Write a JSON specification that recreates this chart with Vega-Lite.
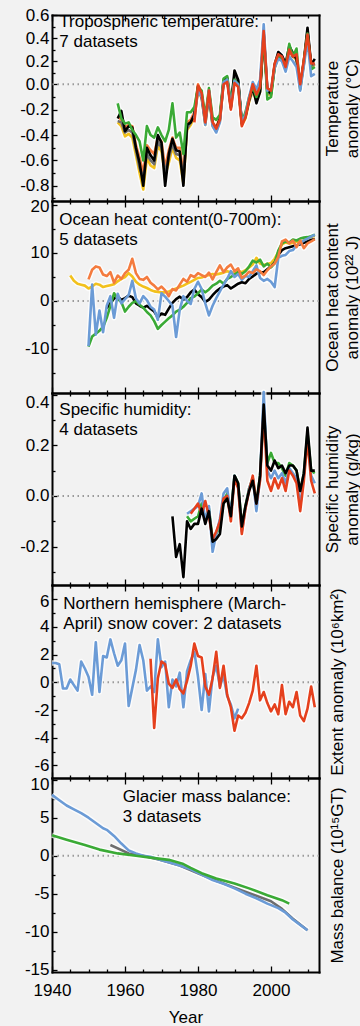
{
"$schema": "https://vega.github.io/schema/vega-lite/v6.json",
"background": "#f2f2f2",
"padding": {"left": 19, "top": 6, "right": 0, "bottom": 0},
"spacing": 0,
"bounds": "flush",
"config": {
 "view": {"stroke": null},
 "axis": {"labelFont": "Liberation Sans", "labelFontSize": 17, "labelColor": "#000", "titleFont": "Liberation Sans", "titleFontSize": 17, "titleFontWeight": "normal", "titleColor": "#000", "domainColor": "#000", "domainWidth": 2, "domainCap": "square", "tickColor": "#000", "tickWidth": 1.3, "grid": false, "labelOverlap": false, "labelBound": false, "labelFlush": false, "zindex": 1},
 "text": {"font": "Liberation Sans"}
},
"datasets": {
 "t1": [
  {"year":1958,"yl":-0.30,"or":-0.25,"gy":-0.29,"bk":-0.27,"gn":-0.15},
  {"year":1959,"yl":-0.33,"or":-0.28,"gy":-0.30,"bk":-0.21,"gn":-0.27},
  {"year":1960,"yl":-0.41,"or":-0.34,"gy":-0.38,"bk":-0.37,"gn":-0.31},
  {"year":1961,"yl":-0.39,"or":-0.32,"gy":-0.36,"bk":-0.33,"gn":-0.30},
  {"year":1962,"yl":-0.42,"or":-0.33,"gy":-0.38,"bk":-0.34,"gn":-0.36},
  {"year":1963,"yl":-0.56,"or":-0.48,"gy":-0.52,"bk":-0.50,"gn":-0.40},
  {"year":1964,"yl":-0.70,"or":-0.58,"gy":-0.66,"bk":-0.62,"gn":-0.45},
  {"year":1965,"yl":-0.83,"or":-0.70,"gy":-0.74,"bk":-0.80,"gn":-0.60},
  {"year":1966,"yl":-0.58,"or":-0.48,"gy":-0.55,"bk":-0.50,"gn":-0.33},
  {"year":1967,"yl":-0.64,"or":-0.52,"gy":-0.60,"bk":-0.56,"gn":-0.40},
  {"year":1968,"yl":-0.66,"or":-0.55,"gy":-0.63,"bk":-0.60,"gn":-0.42},
  {"year":1969,"yl":-0.48,"or":-0.42,"gy":-0.45,"bk":-0.40,"gn":-0.34},
  {"year":1970,"yl":-0.53,"or":-0.45,"gy":-0.50,"bk":-0.46,"gn":-0.40},
  {"year":1971,"yl":-0.72,"or":-0.66,"gy":-0.70,"bk":-0.80,"gn":-0.45},
  {"year":1972,"yl":-0.62,"or":-0.52,"gy":-0.58,"bk":-0.55,"gn":-0.36},
  {"year":1973,"yl":-0.50,"or":-0.42,"gy":-0.47,"bk":-0.43,"gn":-0.15},
  {"year":1974,"yl":-0.58,"or":-0.50,"gy":-0.55,"bk":-0.52,"gn":-0.42},
  {"year":1975,"yl":-0.60,"or":-0.50,"gy":-0.56,"bk":-0.53,"gn":-0.38},
  {"year":1976,"yl":-0.78,"or":-0.70,"gy":-0.74,"bk":-0.80,"gn":-0.55},
  {"year":1977,"yl":-0.36,"or":-0.30,"gy":-0.35,"bk":-0.32,"gn":-0.22},
  {"year":1978,"yl":-0.32,"or":-0.28,"gy":-0.30,"bk":-0.30,"gn":-0.22},
  {"year":1979,"yl":-0.26,"or":-0.22,"gy":-0.24,"bk":-0.24,"gn":-0.18,"bl":-0.27,"rd":-0.30},
  {"year":1980,"yl":-0.05,"or":0.00,"gy":-0.04,"bk":-0.02,"gn":-0.02,"bl":-0.05,"rd":-0.01},
  {"year":1981,"yl":-0.11,"or":-0.07,"gy":-0.10,"bk":-0.09,"gn":-0.05,"bl":-0.10,"rd":-0.07},
  {"year":1982,"yl":-0.32,"or":-0.28,"gy":-0.31,"bk":-0.29,"gn":-0.26,"bl":-0.32,"rd":-0.30},
  {"year":1983,"yl":-0.09,"or":-0.05,"gy":-0.08,"bk":-0.06,"gn":-0.03,"bl":-0.05,"rd":-0.05},
  {"year":1984,"yl":-0.33,"or":-0.30,"gy":-0.32,"bk":-0.31,"gn":-0.26,"bl":-0.33,"rd":-0.30},
  {"year":1985,"yl":-0.37,"or":-0.34,"gy":-0.36,"bk":-0.35,"gn":-0.28,"bl":-0.38,"rd":-0.35},
  {"year":1986,"yl":-0.29,"or":-0.26,"gy":-0.28,"bk":-0.27,"gn":-0.24,"bl":-0.30,"rd":-0.28},
  {"year":1987,"yl":0.01,"or":0.04,"gy":0.02,"bk":0.03,"gn":0.05,"bl":0.02,"rd":0.00},
  {"year":1988,"yl":0.05,"or":0.04,"gy":0.06,"bk":0.05,"gn":0.07,"bl":0.04,"rd":0.02},
  {"year":1989,"yl":-0.18,"or":-0.19,"gy":-0.17,"bk":-0.18,"gn":-0.15,"bl":-0.18,"rd":-0.20},
  {"year":1990,"yl":0.07,"or":0.06,"gy":0.08,"bk":0.12,"gn":0.04,"bl":0.03,"rd":0.01},
  {"year":1991,"yl":0.02,"or":0.02,"gy":0.03,"bk":0.04,"gn":0.00,"bl":0.00,"rd":-0.02},
  {"year":1992,"yl":-0.32,"or":-0.31,"gy":-0.31,"bk":-0.30,"gn":-0.30,"bl":-0.30,"rd":-0.33},
  {"year":1993,"yl":-0.27,"or":-0.25,"gy":-0.26,"bk":-0.25,"gn":-0.22,"bl":-0.24,"rd":-0.26},
  {"year":1994,"yl":-0.14,"or":-0.12,"gy":-0.13,"bk":-0.12,"gn":-0.10,"bl":-0.10,"rd":-0.12},
  {"year":1995,"yl":-0.05,"or":-0.02,"gy":-0.04,"bk":-0.02,"gn":-0.02,"bl":0.02,"rd":0.00},
  {"year":1996,"yl":-0.13,"or":-0.12,"gy":-0.12,"bk":-0.15,"gn":-0.10,"bl":-0.04,"rd":-0.08},
  {"year":1997,"yl":-0.06,"or":-0.04,"gy":-0.05,"bk":-0.06,"gn":-0.02,"bl":0.04,"rd":-0.02},
  {"year":1998,"yl":0.41,"or":0.43,"gy":0.42,"bk":0.44,"gn":0.44,"bl":0.52,"rd":0.46},
  {"year":1999,"yl":-0.07,"or":-0.05,"gy":-0.06,"bk":-0.05,"gn":-0.12,"bl":-0.05,"rd":-0.03},
  {"year":2000,"yl":-0.09,"or":-0.07,"gy":-0.08,"bk":-0.07,"gn":-0.10,"bl":-0.04,"rd":-0.05},
  {"year":2001,"yl":0.14,"or":0.16,"gy":0.15,"bk":0.17,"gn":0.15,"bl":0.14,"rd":0.18},
  {"year":2002,"yl":0.24,"or":0.25,"gy":0.25,"bk":0.28,"gn":0.24,"bl":0.22,"rd":0.26},
  {"year":2003,"yl":0.23,"or":0.23,"gy":0.24,"bk":0.25,"gn":0.22,"bl":0.20,"rd":0.24},
  {"year":2004,"yl":0.15,"or":0.16,"gy":0.16,"bk":0.18,"gn":0.13,"bl":0.11,"rd":0.15},
  {"year":2005,"yl":0.29,"or":0.29,"gy":0.30,"bk":0.33,"gn":0.35,"bl":0.24,"rd":0.30},
  {"year":2006,"yl":0.24,"or":0.24,"gy":0.25,"bk":0.27,"gn":0.24,"bl":0.20,"rd":0.24},
  {"year":2007,"yl":0.21,"or":0.23,"gy":0.22,"bk":0.22,"gn":0.31,"bl":0.15,"rd":0.26},
  {"year":2008,"yl":-0.03,"or":-0.01,"gy":-0.02,"bk":-0.01,"gn":-0.04,"bl":-0.05,"rd":0.00},
  {"year":2009,"yl":0.17,"or":0.19,"gy":0.18,"bk":0.20,"gn":0.20,"bl":0.16,"rd":0.21},
  {"year":2010,"yl":0.45,"or":0.44,"gy":0.46,"bk":0.49,"gn":0.44,"bl":0.38,"rd":0.43},
  {"year":2011,"yl":0.15,"or":0.16,"gy":0.16,"bk":0.17,"gn":0.13,"bl":0.07,"rd":0.18},
  {"year":2012,"yl":0.17,"or":0.17,"gy":0.18,"bk":0.22,"gn":0.15,"bl":0.09,"rd":0.18}
 ],
 "t2": [
  {"year":1945,"yl":5.3},{"year":1946,"yl":4.2},{"year":1947,"yl":3.6},{"year":1948,"yl":3.4},{"year":1949,"yl":3.2},
  {"year":1950,"yl":2.6,"gn":-9.5,"bl":-9.4,"or":4.5},
  {"year":1951,"yl":3.0,"gn":-7.4,"bl":3.4,"or":6.5},
  {"year":1952,"yl":3.6,"gn":-6.8,"bl":-7.0,"or":7.2},
  {"year":1953,"yl":3.4,"gn":-6.2,"bl":-2.0,"or":7.0},
  {"year":1954,"yl":2.9,"gn":-5.4,"bl":-6.5,"or":5.5},
  {"year":1955,"yl":3.1,"bk":-1.5,"gn":-3.5,"bl":-1.0,"or":5.2},
  {"year":1956,"yl":3.3,"bk":-0.5,"gn":-1.0,"bl":1.0,"or":6.0},
  {"year":1957,"yl":3.5,"bk":0.5,"gn":1.6,"bl":-3.5,"or":3.8},
  {"year":1958,"yl":4.1,"bk":1.0,"gn":0.4,"bl":1.5,"or":5.3},
  {"year":1959,"yl":4.6,"bk":0.2,"gn":-0.2,"bl":-0.5,"or":4.6},
  {"year":1960,"yl":5.0,"bk":0.6,"gn":-2.2,"bl":0.4,"or":5.8},
  {"year":1961,"yl":5.8,"bk":1.1,"gn":-1.2,"bl":1.2,"or":6.5},
  {"year":1962,"yl":5.1,"bk":0.8,"gn":-0.4,"bl":4.2,"or":8.8},
  {"year":1963,"yl":4.0,"bk":-0.5,"gn":0.0,"bl":0.5,"or":5.8},
  {"year":1964,"yl":3.4,"bk":-1.0,"gn":-0.8,"bl":-0.5,"or":4.6},
  {"year":1965,"yl":3.0,"bk":-1.4,"gn":-1.4,"bl":1.0,"or":4.4},
  {"year":1966,"yl":2.7,"bk":-1.0,"gn":-2.3,"bl":0.2,"or":5.0},
  {"year":1967,"yl":2.3,"bk":-1.6,"gn":-3.0,"bl":-1.2,"or":3.8},
  {"year":1968,"yl":2.0,"bk":-2.2,"gn":-4.2,"bl":-1.8,"or":3.2},
  {"year":1969,"yl":1.9,"bk":-3.4,"gn":-5.8,"bl":-3.9,"or":2.4},
  {"year":1970,"yl":1.8,"bk":-2.6,"gn":-5.0,"bl":1.6,"or":3.0},
  {"year":1971,"yl":1.8,"bk":-2.9,"gn":-4.3,"bl":0.9,"or":2.2},
  {"year":1972,"yl":2.0,"bk":-1.6,"gn":-3.6,"bl":0.0,"or":1.0},
  {"year":1973,"yl":2.3,"bk":-0.4,"gn":-3.0,"bl":-1.0,"or":2.5},
  {"year":1974,"yl":2.6,"bk":0.4,"gn":-2.2,"bl":-7.5,"or":2.2},
  {"year":1975,"yl":2.9,"bk":0.9,"gn":-1.8,"bl":-1.8,"or":3.4},
  {"year":1976,"yl":3.2,"bk":0.3,"gn":-1.2,"bl":1.0,"or":4.6},
  {"year":1977,"yl":3.6,"bk":0.8,"gn":-0.4,"bl":0.0,"or":4.0},
  {"year":1978,"yl":4.0,"bk":1.8,"gn":0.6,"bl":-0.6,"or":5.4},
  {"year":1979,"yl":4.4,"bk":2.4,"gn":0.9,"bl":2.5,"or":5.0},
  {"year":1980,"yl":4.8,"bk":1.4,"gn":1.6,"bl":4.0,"or":5.8},
  {"year":1981,"yl":4.9,"bk":0.8,"gn":2.4,"bl":2.5,"or":5.4},
  {"year":1982,"yl":5.2,"bk":-0.2,"gn":1.8,"bl":-0.5,"or":5.0},
  {"year":1983,"yl":5.4,"bk":0.3,"gn":2.4,"bl":-3.0,"or":5.9},
  {"year":1984,"yl":5.6,"bk":1.2,"gn":3.2,"bl":-1.0,"or":4.5},
  {"year":1985,"yl":5.5,"bk":2.0,"gn":3.6,"bl":0.6,"or":6.0},
  {"year":1986,"yl":5.7,"bk":2.6,"gn":4.2,"bl":2.0,"or":7.4},
  {"year":1987,"yl":5.9,"bk":3.0,"gn":3.6,"bl":3.4,"or":6.0},
  {"year":1988,"yl":6.2,"bk":3.3,"gn":4.6,"bl":4.6,"or":7.0},
  {"year":1989,"yl":6.0,"bk":2.6,"gn":5.0,"bl":6.2,"or":7.6},
  {"year":1990,"yl":5.9,"bk":3.1,"gn":5.5,"bl":5.0,"or":6.2},
  {"year":1991,"yl":6.3,"bk":3.6,"gn":6.0,"bl":5.6,"or":6.8},
  {"year":1992,"yl":6.0,"bk":3.9,"gn":5.6,"bl":4.4,"or":4.8},
  {"year":1993,"yl":6.4,"bk":3.7,"gn":6.2,"bl":5.2,"or":5.3},
  {"year":1994,"yl":7.0,"bk":4.6,"gn":7.2,"bl":5.0,"or":6.1},
  {"year":1995,"yl":7.6,"bk":5.1,"gn":8.4,"bl":6.2,"or":5.8},
  {"year":1996,"yl":9.0,"bk":5.7,"gn":8.0,"bl":7.4,"or":6.6},
  {"year":1997,"yl":7.8,"bk":6.0,"gn":8.6,"bl":4.8,"or":6.2},
  {"year":1998,"yl":7.5,"bk":6.0,"gn":7.2,"bl":4.2,"or":5.4},
  {"year":1999,"yl":7.7,"bk":6.6,"gn":7.8,"bl":4.6,"or":6.4},
  {"year":2000,"yl":7.9,"bk":7.2,"gn":7.0,"bl":4.0,"or":7.2},
  {"year":2001,"yl":8.8,"bk":8.0,"gn":7.9,"bl":2.9,"or":7.8},
  {"year":2002,"yl":10.2,"bk":9.6,"gn":10.5,"bl":9.0,"or":9.2},
  {"year":2003,"yl":11.8,"bk":10.6,"gn":12.0,"bl":9.4,"or":12.4},
  {"year":2004,"yl":12.2,"bk":11.0,"gn":12.4,"bl":9.6,"or":12.8},
  {"year":2005,"yl":12.0,"bk":11.2,"gn":12.2,"bl":10.4,"or":12.0},
  {"year":2006,"yl":12.1,"bk":11.4,"gn":12.8,"bl":10.6,"or":12.6},
  {"year":2007,"yl":12.4,"bk":11.6,"gn":12.6,"bl":11.6,"or":11.2},
  {"year":2008,"yl":12.2,"bk":11.8,"gn":13.0,"bl":12.0,"or":12.6},
  {"year":2009,"yl":12.6,"bk":12.1,"gn":13.2,"bl":12.6,"or":11.0},
  {"year":2010,"yl":13.0,"bk":12.4,"gn":13.3,"bl":13.0,"or":12.0},
  {"year":2011,"yl":13.3,"bk":12.7,"gn":13.5,"bl":13.4,"or":12.4},
  {"year":2012,"yl":13.6,"bk":12.9,"gn":13.8,"bl":13.8,"or":12.9}
 ],
 "t3": [
  {"year":1973,"bk":-0.08},{"year":1974,"bk":-0.24},{"year":1975,"bk":-0.19},{"year":1976,"bk":-0.32},
  {"year":1977,"gn":-0.08,"bl":-0.07,"bk":-0.10},
  {"year":1978,"gn":-0.10,"bl":-0.06,"rd":-0.07,"bk":-0.13},
  {"year":1979,"gn":-0.09,"bl":-0.05,"rd":-0.05,"bk":-0.11},
  {"year":1980,"gn":-0.08,"bl":-0.04,"rd":-0.03,"bk":-0.11},
  {"year":1981,"gn":-0.03,"bl":0.01,"rd":-0.07,"bk":-0.05},
  {"year":1982,"gn":-0.09,"bl":-0.10,"rd":-0.02,"bk":-0.11},
  {"year":1983,"gn":-0.05,"bl":-0.04,"rd":-0.08,"bk":-0.06},
  {"year":1984,"gn":-0.17,"bl":-0.22,"rd":-0.17,"bk":-0.18},
  {"year":1985,"gn":-0.15,"bl":-0.15,"rd":-0.14,"bk":-0.17},
  {"year":1986,"gn":-0.12,"bl":-0.09,"rd":-0.10,"bk":-0.15},
  {"year":1987,"gn":-0.02,"bl":0.01,"rd":-0.01,"bk":-0.03},
  {"year":1988,"gn":0.01,"bl":0.03,"rd":0.00,"bk":-0.01},
  {"year":1989,"gn":-0.07,"bl":-0.08,"rd":-0.10,"bk":-0.08},
  {"year":1990,"gn":0.08,"bl":0.08,"rd":0.07,"bk":0.08},
  {"year":1991,"gn":0.05,"bl":0.04,"rd":0.03,"bk":0.05},
  {"year":1992,"gn":-0.12,"bl":-0.14,"rd":-0.15,"bk":-0.12},
  {"year":1993,"gn":-0.04,"bl":-0.05,"rd":-0.05,"bk":-0.04},
  {"year":1994,"gn":0.03,"bl":0.03,"rd":0.02,"bk":0.02},
  {"year":1995,"gn":0.07,"bl":0.07,"rd":0.08,"bk":0.06},
  {"year":1996,"gn":-0.03,"bl":-0.06,"rd":-0.03,"bk":-0.03},
  {"year":1997,"gn":0.08,"bl":0.07,"rd":0.06,"bk":0.08},
  {"year":1998,"gn":0.34,"bl":0.41,"rd":0.33,"bk":0.36},
  {"year":1999,"gn":0.13,"bl":0.10,"rd":0.06,"bk":0.12},
  {"year":2000,"gn":0.17,"bl":0.07,"rd":0.02,"bk":0.10},
  {"year":2001,"gn":0.13,"bl":0.10,"rd":0.07,"bk":0.14},
  {"year":2002,"gn":0.13,"bl":0.07,"rd":0.03,"bk":0.11},
  {"year":2003,"gn":0.11,"bl":0.09,"rd":0.07,"bk":0.12},
  {"year":2004,"gn":0.08,"bl":0.05,"rd":0.02,"bk":0.09},
  {"year":2005,"gn":0.13,"bl":0.11,"rd":0.10,"bk":0.12},
  {"year":2006,"gn":0.12,"bl":0.09,"rd":0.08,"bk":0.12},
  {"year":2007,"gn":0.10,"bl":0.07,"rd":0.05,"bk":0.10},
  {"year":2008,"gn":0.02,"bl":-0.04,"rd":-0.06,"bk":0.02},
  {"year":2009,"gn":0.09,"bl":0.08,"rd":0.06,"bk":0.09},
  {"year":2010,"gn":0.25,"bl":0.23,"rd":0.22,"bk":0.27},
  {"year":2011,"gn":0.10,"bl":0.08,"rd":0.06,"bk":0.10},
  {"year":2012,"gn":0.09,"bl":0.05,"rd":0.01,"bk":0.10}
 ],
 "t4": [
  {"year":1940,"bl":1.4},{"year":1941,"bl":1.4},{"year":1942,"bl":1.3},{"year":1943,"bl":-0.45},{"year":1944,"bl":-0.45},
  {"year":1945,"bl":0.2},{"year":1946,"bl":-0.2},{"year":1947,"bl":-0.6},{"year":1948,"bl":1.5},{"year":1949,"bl":1.0},
  {"year":1950,"bl":0.4},{"year":1951,"bl":-0.9},{"year":1952,"bl":2.9},{"year":1953,"bl":-0.7},{"year":1954,"bl":1.9},
  {"year":1955,"bl":1.8},{"year":1956,"bl":3.1},{"year":1957,"bl":2.1},{"year":1958,"bl":1.2},{"year":1959,"bl":1.6},
  {"year":1960,"bl":2.8},{"year":1961,"bl":-1.7},{"year":1962,"bl":-0.4},{"year":1963,"bl":0.9},{"year":1964,"bl":2.7},
  {"year":1965,"bl":1.6},{"year":1966,"bl":-0.6},
  {"year":1967,"bl":-0.3,"rd":1.7},{"year":1968,"bl":-0.7,"rd":-3.3},{"year":1969,"bl":3.1,"rd":0.3},
  {"year":1970,"bl":1.1,"rd":1.5},{"year":1971,"bl":1.5,"rd":1.3},{"year":1972,"bl":-1.8,"rd":-0.1},
  {"year":1973,"bl":0.2,"rd":-0.4},{"year":1974,"bl":-0.3,"rd":0.2},{"year":1975,"bl":0.7,"rd":-0.5},
  {"year":1976,"bl":-1.8,"rd":-0.8},{"year":1977,"bl":0.8,"rd":0.1},{"year":1978,"bl":1.6,"rd":1.2},
  {"year":1979,"bl":2.2,"rd":2.8},{"year":1980,"bl":0.4,"rd":1.9},{"year":1981,"bl":-2.0,"rd":1.8},
  {"year":1982,"bl":0.6,"rd":-0.3},{"year":1983,"bl":-2.1,"rd":-0.9},{"year":1984,"bl":0.4,"rd":0.3},
  {"year":1985,"bl":1.2,"rd":2.2},{"year":1986,"bl":-0.3,"rd":-0.4},{"year":1987,"bl":0.5,"rd":1.2},
  {"year":1988,"bl":-1.0,"rd":-0.9},{"year":1989,"bl":-1.6,"rd":-1.8},{"year":1990,"bl":-2.6,"rd":-3.5},
  {"year":1991,"bl":-1.9,"rd":-2.4},
  {"year":1992,"rd":-2.6},{"year":1993,"rd":-2.2},{"year":1994,"rd":-1.5},{"year":1995,"rd":-0.6},{"year":1996,"rd":1.2},
  {"year":1997,"rd":-1.3},{"year":1998,"rd":-0.7},{"year":1999,"rd":-1.5},{"year":2000,"rd":-2.1},{"year":2001,"rd":-1.6},
  {"year":2002,"rd":-2.3},{"year":2003,"rd":-0.2},{"year":2004,"rd":-2.3},{"year":2005,"rd":-1.4},{"year":2006,"rd":-1.8},
  {"year":2007,"rd":-0.7},{"year":2008,"rd":-2.4},{"year":2009,"rd":-2.8},{"year":2010,"rd":-1.9},{"year":2011,"rd":-0.3},
  {"year":2012,"rd":-1.8}
 ],
 "t5": [
  {"s":"gy","year":1956,"v":1.4},{"s":"gy","year":1961,"v":0.3},{"s":"gy","year":1965,"v":0.0},{"s":"gy","year":1970,"v":-0.6},
  {"s":"gy","year":1975,"v":-1.3},{"s":"gy","year":1980,"v":-2.3},{"s":"gy","year":1985,"v":-3.3},{"s":"gy","year":1990,"v":-4.2},
  {"s":"gy","year":1995,"v":-5.1},{"s":"gy","year":2000,"v":-6.0},{"s":"gy","year":2003,"v":-7.0},{"s":"gy","year":2006,"v":-8.3},
  {"s":"gy","year":2010,"v":-9.8},
  {"s":"bl","year":1940,"v":8.0},{"s":"bl","year":1942,"v":7.3},{"s":"bl","year":1944,"v":6.6},{"s":"bl","year":1946,"v":6.1},
  {"s":"bl","year":1948,"v":5.6},{"s":"bl","year":1950,"v":5.0},{"s":"bl","year":1952,"v":4.3},{"s":"bl","year":1954,"v":3.6},
  {"s":"bl","year":1955,"v":3.4},{"s":"bl","year":1957,"v":2.6},{"s":"bl","year":1959,"v":1.6},{"s":"bl","year":1961,"v":0.7},
  {"s":"bl","year":1963,"v":0.3},{"s":"bl","year":1965,"v":0.0},{"s":"bl","year":1967,"v":-0.15},{"s":"bl","year":1970,"v":-0.6},
  {"s":"bl","year":1972,"v":-0.85},{"s":"bl","year":1975,"v":-1.3},{"s":"bl","year":1978,"v":-1.8},{"s":"bl","year":1981,"v":-2.5},
  {"s":"bl","year":1984,"v":-3.2},{"s":"bl","year":1987,"v":-3.7},{"s":"bl","year":1990,"v":-4.3},{"s":"bl","year":1993,"v":-5.0},
  {"s":"bl","year":1996,"v":-5.6},{"s":"bl","year":1999,"v":-6.3},{"s":"bl","year":2002,"v":-6.9},{"s":"bl","year":2004,"v":-7.5},
  {"s":"bl","year":2006,"v":-8.4},{"s":"bl","year":2008,"v":-9.1},{"s":"bl","year":2010,"v":-9.8},
  {"s":"gn","year":1940,"v":2.7},{"s":"gn","year":1944,"v":2.1},{"s":"gn","year":1949,"v":1.4},{"s":"gn","year":1953,"v":0.8},
  {"s":"gn","year":1958,"v":0.3},{"s":"gn","year":1963,"v":0.0},{"s":"gn","year":1967,"v":-0.25},{"s":"gn","year":1972,"v":-0.55},
  {"s":"gn","year":1976,"v":-1.1},{"s":"gn","year":1978,"v":-1.6},{"s":"gn","year":1981,"v":-2.3},{"s":"gn","year":1985,"v":-3.0},
  {"s":"gn","year":1990,"v":-3.65},{"s":"gn","year":1994,"v":-4.3},{"s":"gn","year":1999,"v":-5.2},{"s":"gn","year":2003,"v":-5.85},
  {"s":"gn","year":2005,"v":-6.3}
 ]
},
"vconcat": [
 {
  "width": 267, "height": 186,
  "layer": [
   {"data": {"values": [{}]}, "mark": {"type": "rule", "stroke": "#9a9a9a", "strokeWidth": 2, "strokeDash": [1.5, 3.5]}, "encoding": {"y": {"datum": 0, "type": "quantitative", "axis": null}}},
   {"data": {"name": "t1"}, "transform": [{"fold": ["yl","or","gy","bk","gn","bl","rd"], "as": ["s","v"]}],
    "mark": {"type": "line", "stroke": "#ffffff", "strokeOpacity": 0.75, "strokeWidth": 5.5, "strokeJoin": "round", "invalid": "break-paths-show-domains"},
    "encoding": {
     "x": {"field": "year", "type": "quantitative", "scale": {"domain": [1940, 2013.15], "nice": false, "zero": false},
      "axis": {"orient": "bottom", "values": [1940,1945,1950,1955,1960,1965,1970,1975,1980,1985,1990,1995,2000,2005,2010], "tickSize": {"condition": {"test": "datum.value % 20 == 0", "value": -6}, "value": -3}, "labels": false, "title": null}},
     "y": {"field": "v", "type": "quantitative", "scale": {"domain": [-0.92, 0, 0.6], "range": [186, 69.3, 0], "nice": false, "zero": false},
      "axis": {"orient": "left", "values": [-0.9,-0.8,-0.7,-0.6,-0.5,-0.4,-0.3,-0.2,-0.1,0,0.1,0.2,0.3,0.4,0.5,0.6], "tickSize": {"condition": {"test": "abs(datum.value*5 - round(datum.value*5)) < 0.001", "value": -5}, "value": -3}, "labelExpr": "abs(datum.value*5 - round(datum.value*5)) < 0.001 ? replace(format(datum.value, '.1f'), '\u2212', '-') : ''", "labelPadding": 8, "title": null}},
     "detail": {"field": "s"}
    }},
   {"data": {"name": "t1"}, "transform": [{"fold": ["yl","or","gy","bk","gn","bl","rd"], "as": ["s","v"]}],
    "mark": {"type": "line", "strokeWidth": 2.6, "strokeJoin": "round", "invalid": "break-paths-show-domains"},
    "encoding": {
     "x": {"field": "year", "type": "quantitative", "axis": {"orient": "top", "values": [1940,1945,1950,1955,1960,1965,1970,1975,1980,1985,1990,1995,2000,2005,2010], "tickSize": {"condition": {"test": "datum.value % 20 == 0", "value": -6}, "value": -3}, "labels": false, "title": null}},
     "y": {"field": "v", "type": "quantitative", "axis": {"orient": "right", "ticks": false, "labels": false, "title": ["Temperature", "anomaly (°C)"], "titleAngle": 270, "titleBaseline": "top", "titlePadding": -15, "titleLineHeight": 20}},
     "color": {"field": "s", "type": "nominal", "scale": {"domain": ["bk","gy","yl","or","gn","bl","rd"], "range": ["#000000","#6e6e6e","#f2c11c","#f47b3e","#3aaa35","#6b9bd6","#e5401d"]}, "legend": null}
    }},
   {"data": {"values": [{}]}, "mark": {"type": "text", "text": ["Tropospheric temperature:", "7 datasets"], "align": "left", "baseline": "alphabetic", "fontSize": 17, "lineHeight": 20, "dy": 12, "color": "#000"},
    "encoding": {"x": {"datum": 1942, "type": "quantitative", "axis": null}, "y": {"datum": 0.6, "type": "quantitative", "axis": null}}}
  ],
  "resolve": {"axis": {"x": "independent", "y": "independent"}}
 },
 {
  "width": 267, "height": 192,
  "layer": [
   {"data": {"values": [{}]}, "mark": {"type": "rule", "stroke": "#9a9a9a", "strokeWidth": 2, "strokeDash": [1.5, 3.5]}, "encoding": {"y": {"datum": 0, "type": "quantitative", "axis": null}}},
   {"data": {"name": "t2"}, "transform": [{"fold": ["yl","bk","gn","bl","or"], "as": ["s","v"]}],
    "mark": {"type": "line", "stroke": "#ffffff", "strokeOpacity": 0.75, "strokeWidth": 5.5, "strokeJoin": "round", "invalid": "break-paths-show-domains"},
    "encoding": {
     "x": {"field": "year", "type": "quantitative", "scale": {"domain": [1940, 2013.15], "nice": false, "zero": false},
      "axis": {"orient": "bottom", "values": [1940,1945,1950,1955,1960,1965,1970,1975,1980,1985,1990,1995,2000,2005,2010], "tickSize": {"condition": {"test": "datum.value % 20 == 0", "value": -6}, "value": -3}, "labels": false, "title": null}},
     "y": {"field": "v", "type": "quantitative", "scale": {"domain": [-19.17, 20.83], "nice": false, "zero": false},
      "axis": {"orient": "left", "values": [-15,-10,-5,0,5,10,15,20], "tickSize": {"condition": {"test": "datum.value % 10 == 0", "value": -5}, "value": -3}, "labelExpr": "datum.value % 10 == 0 ? '' + datum.value : ''", "labelOffset": {"condition": {"test": "datum.value == 20", "value": 2}, "value": 0}, "labelPadding": 8, "title": null}},
     "detail": {"field": "s"}
    }},
   {"data": {"name": "t2"}, "transform": [{"fold": ["yl","bk","gn","bl","or"], "as": ["s","v"]}],
    "mark": {"type": "line", "strokeWidth": 2.6, "strokeJoin": "round", "invalid": "break-paths-show-domains"},
    "encoding": {
     "x": {"field": "year", "type": "quantitative", "axis": {"orient": "top", "values": [1940,1945,1950,1955,1960,1965,1970,1975,1980,1985,1990,1995,2000,2005,2010], "tickSize": {"condition": {"test": "datum.value % 20 == 0", "value": -6}, "value": -3}, "labels": false, "title": null}},
     "y": {"field": "v", "type": "quantitative", "axis": {"orient": "right", "ticks": false, "labels": false, "title": ["Ocean heat content", "anomaly (10²² J)"], "titleAngle": 270, "titleBaseline": "top", "titlePadding": -15, "titleLineHeight": 20}},
     "color": {"field": "s", "type": "nominal", "scale": {"domain": ["bk","gy","yl","or","gn","bl","rd"], "range": ["#000000","#6e6e6e","#f2c11c","#f47b3e","#3aaa35","#6b9bd6","#e5401d"]}, "legend": null}
    }},
   {"data": {"values": [{}]}, "mark": {"type": "text", "text": ["Ocean heat content(0-700m):", "5 datasets"], "align": "left", "baseline": "alphabetic", "fontSize": 17, "lineHeight": 20, "dy": 24, "color": "#000"},
    "encoding": {"x": {"datum": 1942, "type": "quantitative", "axis": null}, "y": {"datum": 20.83, "type": "quantitative", "axis": null}}}
  ],
  "resolve": {"axis": {"x": "independent", "y": "independent"}}
 },
 {
  "width": 267, "height": 192,
  "layer": [
   {"data": {"values": [{}]}, "mark": {"type": "rule", "stroke": "#9a9a9a", "strokeWidth": 2, "strokeDash": [1.5, 3.5]}, "encoding": {"y": {"datum": 0, "type": "quantitative", "axis": null}}},
   {"data": {"name": "t3"}, "transform": [{"fold": ["gn","bl","rd","bk"], "as": ["s","v"]}],
    "mark": {"type": "line", "stroke": "#ffffff", "strokeOpacity": 0.75, "strokeWidth": 5.5, "strokeJoin": "round", "invalid": "break-paths-show-domains"},
    "encoding": {
     "x": {"field": "year", "type": "quantitative", "scale": {"domain": [1940, 2013.15], "nice": false, "zero": false},
      "axis": {"orient": "bottom", "values": [1940,1945,1950,1955,1960,1965,1970,1975,1980,1985,1990,1995,2000,2005,2010], "tickSize": {"condition": {"test": "datum.value % 20 == 0", "value": -6}, "value": -3}, "labels": false, "title": null}},
     "y": {"field": "v", "type": "quantitative", "scale": {"domain": [-0.351, 0.406], "nice": false, "zero": false},
      "axis": {"orient": "left", "values": [-0.3,-0.2,-0.1,0,0.1,0.2,0.3,0.4], "tickSize": {"condition": {"test": "abs(datum.value*5 - round(datum.value*5)) < 0.001", "value": -5}, "value": -3}, "labelExpr": "abs(datum.value*5 - round(datum.value*5)) < 0.001 ? replace(format(datum.value, '.1f'), '\u2212', '-') : ''", "labelOffset": {"condition": {"test": "datum.value > 0.35", "value": 8}, "value": 0}, "labelPadding": 8, "title": null}},
     "detail": {"field": "s"}
    }},
   {"data": {"name": "t3"}, "transform": [{"fold": ["gn","bl","rd","bk"], "as": ["s","v"]}],
    "mark": {"type": "line", "strokeWidth": 2.6, "strokeJoin": "round", "invalid": "break-paths-show-domains"},
    "encoding": {
     "x": {"field": "year", "type": "quantitative", "axis": {"orient": "top", "values": [1940,1945,1950,1955,1960,1965,1970,1975,1980,1985,1990,1995,2000,2005,2010], "tickSize": {"condition": {"test": "datum.value % 20 == 0", "value": -6}, "value": -3}, "labels": false, "title": null}},
     "y": {"field": "v", "type": "quantitative", "axis": {"orient": "right", "ticks": false, "labels": false, "title": ["Specific humidity", "anomaly (g/kg)"], "titleAngle": 270, "titleBaseline": "top", "titlePadding": -15, "titleLineHeight": 20}},
     "color": {"field": "s", "type": "nominal", "scale": {"domain": ["bk","gy","yl","or","gn","bl","rd"], "range": ["#000000","#6e6e6e","#f2c11c","#f47b3e","#3aaa35","#6b9bd6","#e5401d"]}, "legend": null}
    }},
   {"data": {"values": [{}]}, "mark": {"type": "text", "text": ["Specific humidity:", "4 datasets"], "align": "left", "baseline": "alphabetic", "fontSize": 17, "lineHeight": 20, "dy": 22, "color": "#000"},
    "encoding": {"x": {"datum": 1942, "type": "quantitative", "axis": null}, "y": {"datum": 0.406, "type": "quantitative", "axis": null}}}
  ],
  "resolve": {"axis": {"x": "independent", "y": "independent"}}
 },
 {
  "width": 267, "height": 193,
  "layer": [
   {"data": {"values": [{}]}, "mark": {"type": "rule", "stroke": "#9a9a9a", "strokeWidth": 2, "strokeDash": [1.5, 3.5]}, "encoding": {"y": {"datum": 0, "type": "quantitative", "axis": null}}},
   {"data": {"name": "t4"}, "transform": [{"fold": ["bl","rd"], "as": ["s","v"]}],
    "mark": {"type": "line", "stroke": "#ffffff", "strokeOpacity": 0.75, "strokeWidth": 5.5, "strokeJoin": "round", "invalid": "break-paths-show-domains"},
    "encoding": {
     "x": {"field": "year", "type": "quantitative", "scale": {"domain": [1940, 2013.15], "nice": false, "zero": false},
      "axis": {"orient": "bottom", "values": [1940,1945,1950,1955,1960,1965,1970,1975,1980,1985,1990,1995,2000,2005,2010], "tickSize": {"condition": {"test": "datum.value % 20 == 0", "value": -6}, "value": -3}, "labels": false, "title": null}},
     "y": {"field": "v", "type": "quantitative", "scale": {"domain": [-6.91, 7.03], "nice": false, "zero": false},
      "axis": {"orient": "left", "values": [-6,-5,-4,-3,-2,-1,0,1,2,3,4,5,6,7], "tickSize": {"condition": {"test": "datum.value % 2 == 0", "value": -5}, "value": -3}, "labelExpr": "datum.value % 2 == 0 ? '' + datum.value : ''", "labelOffset": {"condition": {"test": "datum.value == 6", "value": 2}, "value": 0}, "labelPadding": 8, "title": null}},
     "detail": {"field": "s"}
    }},
   {"data": {"name": "t4"}, "transform": [{"fold": ["bl","rd"], "as": ["s","v"]}],
    "mark": {"type": "line", "strokeWidth": 2.6, "strokeJoin": "round", "invalid": "break-paths-show-domains"},
    "encoding": {
     "x": {"field": "year", "type": "quantitative", "axis": {"orient": "top", "values": [1940,1945,1950,1955,1960,1965,1970,1975,1980,1985,1990,1995,2000,2005,2010], "tickSize": {"condition": {"test": "datum.value % 20 == 0", "value": -6}, "value": -3}, "labels": false, "title": null}},
     "y": {"field": "v", "type": "quantitative", "axis": {"orient": "right", "ticks": false, "labels": false, "title": "Extent anomaly (10⁶km²)", "titleAngle": 270, "titleBaseline": "top", "titlePadding": 10}},
     "color": {"field": "s", "type": "nominal", "scale": {"domain": ["bk","gy","yl","or","gn","bl","rd"], "range": ["#000000","#6e6e6e","#f2c11c","#f47b3e","#3aaa35","#6b9bd6","#e5401d"]}, "legend": null}
    }},
   {"data": {"values": [{}]}, "mark": {"type": "text", "text": ["Northern hemisphere (March-", "April) snow cover: 2 datasets"], "align": "left", "baseline": "alphabetic", "fontSize": 17, "lineHeight": 20, "dy": 24, "color": "#000"},
    "encoding": {"x": {"datum": 1943.1, "type": "quantitative", "axis": null}, "y": {"datum": 7.03, "type": "quantitative", "axis": null}}}
  ],
  "resolve": {"axis": {"x": "independent", "y": "independent"}}
 },
 {
  "width": 267, "height": 194,
  "layer": [
   {"data": {"values": [{}]}, "mark": {"type": "rule", "stroke": "#9a9a9a", "strokeWidth": 2, "strokeDash": [1.5, 3.5]}, "encoding": {"y": {"datum": 0, "type": "quantitative", "axis": null}}},
   {"data": {"name": "t5"},
    "mark": {"type": "line", "stroke": "#ffffff", "strokeOpacity": 0.75, "strokeWidth": 5.5, "strokeJoin": "round"},
    "encoding": {
     "x": {"field": "year", "type": "quantitative", "scale": {"domain": [1940, 2013.15], "nice": false, "zero": false},
      "axis": {"orient": "bottom", "values": [1940,1945,1950,1955,1960,1965,1970,1975,1980,1985,1990,1995,2000,2005,2010], "tickSize": {"condition": {"test": "datum.value % 20 == 0", "value": -6}, "value": -3}, "labelExpr": "datum.value % 20 == 0 ? '' + datum.value : ''", "labelPadding": 16.5, "title": "Year", "titlePadding": 8}},
     "y": {"field": "v", "type": "quantitative", "scale": {"domain": [-15.3, 10.22], "nice": false, "zero": false},
      "axis": {"orient": "left", "values": [-15,-12.5,-10,-7.5,-5,-2.5,0,2.5,5,7.5,10], "tickSize": {"condition": {"test": "datum.value % 5 == 0", "value": -5}, "value": -3}, "labelExpr": "datum.value % 5 == 0 ? '' + datum.value : ''", "labelOffset": {"condition": {"test": "datum.value == 10", "value": 5}, "value": 0}, "labelPadding": 8, "title": null}},
     "detail": {"field": "s"}
    }},
   {"data": {"name": "t5"},
    "mark": {"type": "line", "strokeWidth": 2.6, "strokeJoin": "round"},
    "encoding": {
     "x": {"field": "year", "type": "quantitative", "axis": {"orient": "top", "values": [1940,1945,1950,1955,1960,1965,1970,1975,1980,1985,1990,1995,2000,2005,2010], "tickSize": {"condition": {"test": "datum.value % 20 == 0", "value": -6}, "value": -3}, "labels": false, "title": null}},
     "y": {"field": "v", "type": "quantitative", "axis": {"orient": "right", "ticks": false, "labels": false, "title": "Mass balance (10¹⁵GT)", "titleAngle": 270, "titleBaseline": "top", "titlePadding": 10}},
     "color": {"field": "s", "type": "nominal", "scale": {"domain": ["bk","gy","yl","or","gn","bl","rd"], "range": ["#000000","#6e6e6e","#f2c11c","#f47b3e","#3aaa35","#6b9bd6","#e5401d"]}, "legend": null}
    }},
   {"data": {"values": [{}]}, "mark": {"type": "text", "text": ["Glacier mass balance:", "3 datasets"], "align": "left", "baseline": "alphabetic", "fontSize": 17, "lineHeight": 20, "dy": 24, "color": "#000"},
    "encoding": {"x": {"datum": 1959.4, "type": "quantitative", "axis": null}, "y": {"datum": 10.22, "type": "quantitative", "axis": null}}}
  ],
  "resolve": {"axis": {"x": "independent", "y": "independent"}}
 }
]
}
